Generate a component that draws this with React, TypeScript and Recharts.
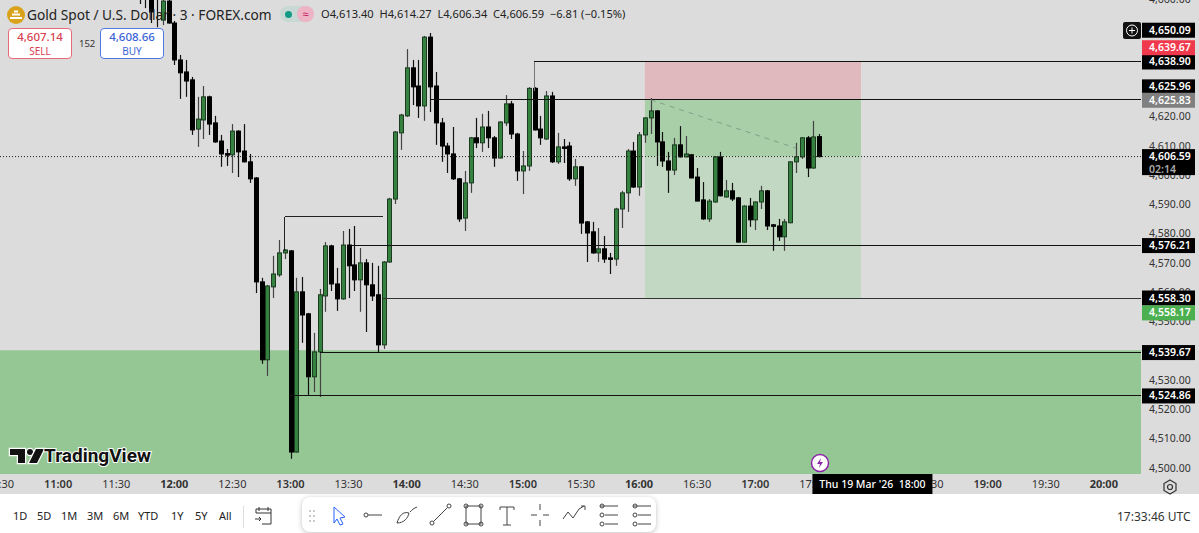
import { Bar, ComposedChart, ReferenceArea, ReferenceLine, XAxis, YAxis } from "recharts";

// candle open times in minutes since midnight (3 minute bars)
const times = [
  702, 705, 708, 711, 714, 717, 720, 723, 726, 729,
  732, 735, 738, 741, 744, 747, 750, 753, 756, 759,
  762, 765, 768, 771, 774, 777, 780, 783, 786, 789,
  792, 795, 798, 801, 804, 807, 810, 813, 816, 819,
  822, 825, 828, 831, 834, 837, 840, 843, 846, 849,
  852, 855, 858, 861, 864, 867, 870, 873, 876, 879,
  882, 885, 888, 891, 894, 897, 900, 903, 906, 909,
  912, 915, 918, 921, 924, 927, 930, 933, 936, 939,
  942, 945, 948, 951, 954, 957, 960, 963, 966, 969,
  972, 975, 978, 981, 984, 987, 990, 993, 996, 999,
  1002, 1005, 1008, 1011, 1014, 1017, 1020, 1023, 1026, 1029,
  1032, 1035, 1038, 1041, 1044, 1047, 1050, 1053,
];
const opens = [
  4664, 4663, 4661, 4661.5, 4653.2, 4659.7, 4652.2, 4639.6, 4635.5, 4632.8,
  4616.0, 4619.1, 4627.0, 4618.1, 4611.9, 4607.6, 4607.2, 4615.3, 4608.5, 4604.8,
  4599.3, 4563.8, 4537.2, 4562.1, 4566.2, 4573.7, 4574.4, 4505.7, 4560.4, 4552.9,
  4531.4, 4539.9, 4559.0, 4576.1, 4563.1, 4558.0, 4576.4, 4569.6, 4564.5, 4570.3,
  4562.8, 4559.4, 4542.3, 4570.6, 4592.1, 4614.7, 4620.5, 4636.9, 4630.7, 4623.9,
  4647.4, 4630.7, 4618.1, 4610.2, 4607.5, 4599.0, 4585.6, 4597.6, 4613.0, 4611.3,
  4616.7, 4613.0, 4606.1, 4618.1, 4624.6, 4614.3, 4601.7, 4603.4, 4629.9, 4616.0,
  4612.6, 4627.3, 4604.8, 4609.9, 4610.2, 4599.0, 4603.1, 4584.3, 4580.9, 4573.7,
  4575.1, 4572.0, 4571.6, 4588.7, 4594.2, 4608.5, 4596.2, 4614.0, 4619.8, 4622.2,
  4611.6, 4605.1, 4602.0, 4610.6, 4606.5, 4607.2, 4599.6, 4591.8, 4585.3, 4591.1,
  4606.5, 4592.8, 4594.9, 4592.5, 4577.4, 4589.7, 4585.0, 4591.1, 4594.9, 4583.3,
  4582.9, 4579.2, 4584.0, 4604.8, 4606.5, 4613.0, 4602.7, 4613.4,
];
const highs = [
  4666, 4666, 4663, 4663, 4661, 4660.5, 4652.9, 4641.3, 4639.6, 4633.8,
  4627.0, 4630.7, 4627.4, 4620.5, 4614.0, 4609.2, 4617.7, 4615.6, 4617.7, 4607.5,
  4599.6, 4565.2, 4562.8, 4572.7, 4578.1, 4575.0, 4574.7, 4565.2, 4565.5, 4553.2,
  4546.4, 4561.4, 4577.4, 4576.5, 4568.6, 4581.2, 4581.9, 4582.9, 4575.4, 4571.6,
  4570.3, 4569.3, 4570.9, 4592.5, 4615.3, 4621.2, 4643.3, 4639.6, 4639.6, 4647.8,
  4648.8, 4635.5, 4619.8, 4611.3, 4616.7, 4599.3, 4601.7, 4613.3, 4619.8, 4621.2,
  4622.2, 4613.6, 4618.7, 4627.6, 4625.6, 4614.7, 4608.5, 4630.3, 4630.3, 4620.5,
  4629.0, 4628.7, 4614.7, 4612.6, 4611.6, 4605.8, 4603.4, 4584.6, 4584.3, 4582.2,
  4579.5, 4573.7, 4589.1, 4594.9, 4609.2, 4611.6, 4615.0, 4620.0, 4626.6, 4622.5,
  4615.0, 4608.2, 4613.0, 4617.0, 4613.6, 4607.5, 4602.7, 4597.9, 4592.1, 4606.8,
  4608.2, 4598.6, 4597.6, 4592.8, 4590.0, 4592.5, 4591.3, 4596.6, 4595.2, 4583.6,
  4585.3, 4585.3, 4605.0, 4611.3, 4613.3, 4613.6, 4618.8, 4614.3,
];
const lows = [
  4658.7, 4657.3, 4652.2, 4650.8, 4651.5, 4652.0, 4637.9, 4626.3, 4627.0, 4614.0,
  4609.9, 4612.6, 4614.0, 4611.3, 4603.1, 4603.4, 4601.0, 4599.6, 4604.6, 4597.6,
  4560.0, 4535.8, 4531.7, 4558.3, 4565.5, 4571.6, 4503.4, 4505.5, 4543.0, 4525.2,
  4526.2, 4524.5, 4553.6, 4560.7, 4553.9, 4557.7, 4558.3, 4560.7, 4553.6, 4546.7,
  4557.3, 4539.6, 4540.9, 4570.3, 4590.4, 4608.9, 4620.1, 4624.2, 4619.8, 4618.8,
  4621.8, 4610.6, 4604.8, 4601.0, 4598.6, 4584.3, 4581.2, 4594.2, 4609.5, 4608.2,
  4609.5, 4603.1, 4606.0, 4617.0, 4612.6, 4598.3, 4593.8, 4601.7, 4615.5, 4610.6,
  4612.3, 4604.4, 4604.1, 4604.4, 4598.3, 4596.6, 4580.2, 4570.6, 4573.4, 4570.6,
  4570.3, 4566.5, 4569.3, 4582.2, 4587.7, 4595.9, 4593.2, 4611.3, 4614.3, 4603.4,
  4603.1, 4594.2, 4600.3, 4606.3, 4606.3, 4599.2, 4591.4, 4585.0, 4584.3, 4590.8,
  4593.0, 4592.6, 4591.4, 4577.2, 4577.2, 4582.6, 4581.5, 4588.7, 4581.5, 4574.4,
  4577.8, 4574.4, 4583.8, 4601.0, 4605.8, 4599.6, 4602.4, 4606.3,
];
const closes = [
  4662, 4661, 4656, 4660.9, 4659.7, 4652.2, 4639.6, 4635.2, 4632.4, 4615.7,
  4619.4, 4627.0, 4617.7, 4611.6, 4607.5, 4607.4, 4615.3, 4608.2, 4604.8, 4599.0,
  4563.8, 4537.2, 4562.4, 4566.5, 4573.7, 4574.7, 4505.7, 4560.4, 4552.5, 4531.4,
  4539.9, 4559.4, 4576.1, 4563.1, 4558.0, 4576.4, 4569.3, 4564.5, 4570.3, 4562.8,
  4559.0, 4542.3, 4570.6, 4592.1, 4615.0, 4620.8, 4636.9, 4630.4, 4623.9, 4647.4,
  4630.4, 4618.1, 4610.2, 4607.5, 4599.0, 4585.3, 4597.6, 4613.0, 4611.3, 4616.7,
  4613.0, 4606.1, 4618.4, 4624.6, 4614.3, 4601.7, 4603.4, 4629.9, 4615.7, 4613.0,
  4627.3, 4604.8, 4609.9, 4609.7, 4599.0, 4603.1, 4583.9, 4580.5, 4573.7, 4575.1,
  4571.6, 4571.8, 4588.7, 4594.2, 4608.5, 4596.2, 4614.0, 4619.8, 4622.2, 4611.6,
  4605.1, 4602.0, 4610.6, 4606.5, 4607.5, 4599.3, 4591.4, 4585.3, 4591.4, 4606.5,
  4593.2, 4594.9, 4592.1, 4577.4, 4589.7, 4585.0, 4591.1, 4594.9, 4582.9, 4583.1,
  4579.2, 4584.3, 4604.8, 4606.5, 4613.0, 4602.7, 4613.3, 4606.59,
];

// 4540, 4630, 4640, 4650 and 18:00 sit fully behind tags in the original
const priceTicks = [
  4500, 4510, 4520, 4530, 4550, 4560, 4570, 4580,
  4590, 4600, 4610, 4620, 4660,
];
const timeTicks = [
  630, 660, 690, 720, 750, 780, 810, 840, 870, 900, 930, 960, 990,
  1020, 1050, 1110, 1140, 1170, 1200,
];
const rangeButtons = ["1D", "5D", "1M", "3M", "6M", "YTD", "1Y", "5Y", "All"];
const rangeButtonX = [13, 37, 61, 87, 113, 138, 171, 195, 219];

const candles = times.map((time, i) => ({
  time,
  open: opens[i],
  high: highs[i],
  low: lows[i],
  close: closes[i],
  range: [lows[i], highs[i]],
}));

const X_MIN = 630;
const X_MAX = 1219.2;
const Y_MIN = 4498.2;
const Y_MAX = 4660.07;
const PLOT_H = 474;
const FONT = '"Noto Sans", sans-serif';
const TEXT = "#333";

const Candle = (props: any) => {
  const { x, y, width, height, payload } = props;
  const cx = Math.round(x + width / 2);
  const perUnit = height / (payload.high - payload.low);
  const up = payload.close >= payload.open;
  const top = y + (payload.high - Math.max(payload.open, payload.close)) * perUnit;
  const bot = y + (payload.high - Math.min(payload.open, payload.close)) * perUnit;
  return (
    <g>
      <line x1={cx + 0.5} x2={cx + 0.5} y1={y} y2={y + height} stroke={up ? "#444" : "#111"} strokeWidth={1.2} />
      <rect
        x={cx - 1.5}
        y={top}
        width={4}
        height={Math.max(bot - top, 1.5)}
        fill={up ? "#35813f" : "#000"}
        stroke={up ? "#1b3a20" : "#000"}
        strokeWidth={1}
      />
    </g>
  );
};

const TimeTick = (props: any) => {
  const { x, y, payload } = props;
  const v = payload.value as number;
  const h = Math.floor(v / 60);
  const m = v % 60;
  const bold = m === 0 && h % 2 === 0;
  const semi = m === 0;
  return (
    <text
      x={x}
      y={y + 6}
      textAnchor="middle"
      fontFamily={FONT}
      fontSize={11}
      fontWeight={bold ? 700 : semi ? 600 : 400}
      fill={TEXT}
    >
      {`${h}:${m === 0 ? "00" : m}`}
    </text>
  );
};

const PriceTick = (props: any) => {
  const { y, payload } = props;
  return (
    <text x={1149} y={y + 3} fontFamily={FONT} fontSize={10.5} fill={TEXT}>
      {payload.value.toLocaleString("en-US", { minimumFractionDigits: 2 })}
    </text>
  );
};

const priceTag = (text: string, bg: string, dy = 0, sub?: string) => (p: any) => {
  const cy = p.viewBox.y + dy;
  return (
    <g fontFamily={FONT} fontSize={10.5} fontWeight={600}>
      <rect x={1142} y={cy - 7.5} width={53} height={sub ? 26 : 15} fill={bg} />
      <text x={1149} y={cy + 3.5} fill="#fff">{text}</text>
      {sub && <text x={1149} y={cy + 16} fill="#aaa">{sub}</text>}
    </g>
  );
};

const dateTag = (p: any) => (
  <g fontFamily={FONT} fontSize={10.5} fontWeight={500}>
    <rect x={p.viewBox.x - 59} y={PLOT_H} width={120} height={20} fill="#000" />
    <text x={p.viewBox.x + 1} y={PLOT_H + 14} fill="#fff" textAnchor="middle">
      Thu 19 Mar '26&#160;&#160;18:00
    </text>
  </g>
);

// second transparent chart on top, tags have to cover the axis labels
const TagLayer = () => (
  <div style={{ position: "absolute", left: 0, top: 0 }}>
    <ComposedChart width={1199} height={533} data={candles} margin={{ top: 0, right: 58, bottom: 59, left: 0 }}>
      <XAxis xAxisId="t" dataKey="time" type="number" domain={[X_MIN, X_MAX]} allowDataOverflow hide />
      <YAxis yAxisId="p" type="number" domain={[Y_MIN, Y_MAX]} allowDataOverflow hide />
      <ReferenceLine xAxisId="t" yAxisId="p" y={4650.09} stroke="none" label={priceTag("4,650.09", "#000", 1)} />
      <ReferenceLine xAxisId="t" yAxisId="p" y={4625.96} stroke="none" label={priceTag("4,625.96", "#000", -13)} />
      <ReferenceLine xAxisId="t" yAxisId="p" y={4625.83} stroke="none" label={priceTag("4,625.83", "#808080")} />
      <ReferenceLine xAxisId="t" yAxisId="p" y={4638.9} stroke="none" label={priceTag("4,638.90", "#000")} />
      <ReferenceLine xAxisId="t" yAxisId="p" y={4639.67} stroke="none" label={priceTag("4,639.67", "#f0394d", -12)} />
      <ReferenceLine xAxisId="t" yAxisId="p" y={4606.59} stroke="none" label={priceTag("4,606.59", "#000", 0, "02:14")} />
      <ReferenceLine xAxisId="t" yAxisId="p" y={4576.21} stroke="none" label={priceTag("4,576.21", "#000")} />
      <ReferenceLine xAxisId="t" yAxisId="p" y={4558.3} stroke="none" label={priceTag("4,558.30", "#000")} />
      <ReferenceLine xAxisId="t" yAxisId="p" y={4558.17} stroke="none" label={priceTag("4,558.17", "#4caf50", 14.5)} />
      <ReferenceLine xAxisId="t" yAxisId="p" y={4539.67} stroke="none" label={priceTag("4,539.67", "#000")} />
      <ReferenceLine xAxisId="t" yAxisId="p" y={4524.86} stroke="none" label={priceTag("4,524.86", "#000")} />
      <ReferenceLine xAxisId="t" yAxisId="p" x={1080} stroke="none" label={dateTag} />
    </ComposedChart>
  </div>
);

const icon = { fill: "none", stroke: "#444", strokeWidth: 1 };

const Toolbar = () => (
  <div
    style={{
      position: "absolute",
      left: 302,
      top: 497,
      width: 354,
      height: 35,
      background: "#fff",
      borderRadius: 8,
      boxShadow: "0 1px 5px rgba(0,0,0,0.25)",
    }}
  >
    <svg width={354} height={35} style={{ display: "block" }}>
      <g fill="#bbb">
        <circle cx={8} cy={14} r={1} /><circle cx={12} cy={14} r={1} />
        <circle cx={8} cy={19} r={1} /><circle cx={12} cy={19} r={1} />
        <circle cx={8} cy={24} r={1} /><circle cx={12} cy={24} r={1} />
      </g>
      <path d="M32 10 L43 20 L38 21 L41 27 L38 28 L35 22 L32 26 Z" fill="none" stroke="#2962ff" strokeWidth={1} />
      <g {...icon}>
        <circle cx={64} cy={18} r={2} /><path d="M66 18 H80" />
        <path d="M95 26 C97 19 101 14 107 16 C106 21 102 26 95 26 Z M108 15 C110 13 112 11 115 10" />
        <circle cx={130} cy={26} r={2} /><circle cx={147} cy={9} r={2} /><path d="M131.5 24.5 L145.5 10.5" />
        <rect x={164} y={9} width={15} height={18} />
        <circle cx={164} cy={9} r={2} /><circle cx={179} cy={9} r={2} /><circle cx={164} cy={27} r={2} /><circle cx={179} cy={27} r={2} />
        <path d="M198 10 H212 M205 10 V28 M201 28 H209 M198 10 V13 M212 10 V13" />
        <path d="M238 7 V13 M238 23 V29 M229 18 H235 M241 18 H247" />
        <path d="M261 22 L266 15 L271 21 L277 12 L282 9 M279 9 H283 V13" />
        <path d="M298 9 H316 M303 18 H316 M303 27 H316" /><circle cx={300} cy={18} r={2} /><circle cx={300} cy={27} r={2} /><circle cx={300} cy={9} r={2} />
        <path d="M331 9 H349 M336 18 H349 M336 27 H349" /><circle cx={333} cy={9} r={2} /><circle cx={333} cy={18} r={2} /><circle cx={333} cy={27} r={2} />
      </g>
    </svg>
  </div>
);

const Header = () => (
  <>
    <svg width={20} height={20} style={{ position: "absolute", left: 6, top: 5 }}>
      <circle cx={10} cy={10} r={9} fill="#d9a21b" />
      <path d="M4 13 H16 M6 9.5 H14 M8 6.5 H12" stroke="#fff" strokeWidth={2} />
    </svg>
    <div style={{ position: "absolute", left: 27, top: 5, font: `13.7px ${FONT}`, color: "#222", whiteSpace: "nowrap" }}>
      Gold Spot / U.S. Dollar · 3 · FOREX.com
    </div>
    <div style={{ position: "absolute", left: 280, top: 6, width: 34, height: 16, borderRadius: 8, background: "#c8d8d4" }} />
    <div style={{ position: "absolute", left: 297, top: 6, width: 17, height: 16, borderRadius: 8, background: "#eeb4c6", color: "#c2185b", font: `11px ${FONT}`, textAlign: "center" }}>≈</div>
    <div style={{ position: "absolute", left: 285, top: 11, width: 7, height: 7, borderRadius: 4, background: "#139a85" }} />
    <div style={{ position: "absolute", left: 321, top: 6, font: `11.1px ${FONT}`, color: "#222", whiteSpace: "nowrap" }}>
      O4,613.40&#160;&#160;H4,614.27&#160;&#160;L4,606.34&#160;&#160;C4,606.59&#160;&#160;−6.81 (−0.15%)
    </div>
    <div style={{ position: "absolute", left: 8, top: 28, width: 62, height: 29, border: "1px solid #e8697a", borderRadius: 4, background: "#fff", textAlign: "center", color: "#d9404f", fontFamily: FONT, lineHeight: "14px" }}>
      <div style={{ fontSize: 11.5, fontWeight: 500, paddingTop: 1 }}>4,607.14</div>
      <div style={{ fontSize: 10 }}>SELL</div>
    </div>
    <div style={{ position: "absolute", left: 79, top: 37, font: `9.5px ${FONT}`, color: "#333" }}>152</div>
    <div style={{ position: "absolute", left: 100, top: 28, width: 62, height: 29, border: "1px solid #4f78e0", borderRadius: 4, background: "#fff", textAlign: "center", color: "#3b63d8", fontFamily: FONT, lineHeight: "14px" }}>
      <div style={{ fontSize: 11.5, fontWeight: 500, paddingTop: 1 }}>4,608.66</div>
      <div style={{ fontSize: 10 }}>BUY</div>
    </div>
  </>
);

const Watermark = () => (
  <svg width={150} height={30} style={{ position: "absolute", left: 6, top: 441 }}>
    <g stroke="#fff" strokeWidth={2.5} style={{ paintOrder: "stroke" }}>
      <path d="M4 8 H19 V22 H12 V14 H4 Z" fill="#111" />
      <circle cx={24} cy={11} r={3} fill="#111" />
      <path d="M30 8 H38 L31 22 H23 Z" fill="#111" />
      <text x={38} y={21} fontFamily='"Roboto", sans-serif' fontSize={19} fontWeight={700} fill="#111" strokeWidth={2}>
        TradingView
      </text>
    </g>
  </svg>
);

const Footer = () => (
  <>
    <div style={{ position: "absolute", left: 0, top: 494, width: 1199, height: 39, background: "#fff" }} />
    {rangeButtons.map((b, i) => (
      <div key={b} style={{ position: "absolute", left: rangeButtonX[i], top: 508, font: `11px ${FONT}`, color: "#222" }}>
        {b}
      </div>
    ))}
    <div style={{ position: "absolute", left: 243, top: 506, width: 1, height: 22, background: "#ddd" }} />
    <svg width={20} height={20} style={{ position: "absolute", left: 254, top: 506 }}>
      <path d="M2 7 H17 V18 H8 M2 7 V3 H17 V7 M5 1 V5 M14 1 V5 M1 13 H7 M5 11 L7 13 L5 15" fill="none" stroke="#333" strokeWidth={1} />
    </svg>
    <Toolbar />
    <div style={{ position: "absolute", left: 1117, top: 508, font: `12px ${FONT}`, color: "#333", whiteSpace: "nowrap" }}>
      17:33:46 UTC
    </div>
  </>
);

const Marks = () => (
  <>
    <svg width={18} height={17} style={{ position: "absolute", left: 1123, top: 22 }}>
      <rect width={18} height={17} rx={2} fill="#111" />
      <circle cx={9} cy={8.5} r={5.5} fill="none" stroke="#fff" />
      <path d="M9 5.5 V11.5 M6 8.5 H12" stroke="#fff" />
    </svg>
    <svg width={20} height={20} style={{ position: "absolute", left: 810, top: 453 }}>
      <circle cx={10} cy={10} r={8.5} fill="#fff" stroke="#8e24aa" strokeWidth={1.5} />
      <path d="M11 5 L7 11 H10 L9 15 L13 9 H10 Z" fill="#8e24aa" />
    </svg>
    <svg width={18} height={18} style={{ position: "absolute", left: 1161, top: 478 }}>
      <path d="M9 2 L15 5.5 V12.5 L9 16 L3 12.5 V5.5 Z" fill="none" stroke="#333" strokeWidth={1.2} />
      <circle cx={9} cy={9} r={2.5} fill="none" stroke="#333" strokeWidth={1.2} />
    </svg>
  </>
);

const App = () => {
  return (
    <div style={{ position: "absolute", left: 0, top: 0, width: 1199, height: 533, background: "#dcdcdc", overflow: "hidden" }}>
      <Footer />
      <div style={{ position: "absolute", left: 0, top: 0 }}>
        <ComposedChart width={1199} height={533} data={candles} margin={{ top: 0, right: 0, bottom: 39, left: 0 }}>
          <XAxis
            xAxisId="t"
            dataKey="time"
            type="number"
            domain={[X_MIN, X_MAX]}
            allowDataOverflow
            ticks={timeTicks}
            interval={0}
            height={20}
            axisLine={false}
            tickLine={false}
            tick={TimeTick}
          />
          <YAxis
            yAxisId="p"
            orientation="right"
            type="number"
            width={58}
            domain={[Y_MIN, Y_MAX]}
            allowDataOverflow
            ticks={priceTicks}
            interval={0}
            axisLine={false}
            tickLine={false}
            tick={PriceTick}
          />
          <ReferenceArea xAxisId="t" yAxisId="p" x1={X_MIN} x2={X_MAX} y1={Y_MIN} y2={4540.5} fill="#95c795" fillOpacity={1} stroke="none" />
          <ReferenceArea xAxisId="t" yAxisId="p" x1={963} x2={1074.6} y1={4625.96} y2={4639.2} fill="#e0b9be" fillOpacity={1} stroke="none" />
          <ReferenceArea xAxisId="t" yAxisId="p" x1={963} x2={1074.6} y1={4606.59} y2={4625.96} fill="#a9cfa9" fillOpacity={1} stroke="none" />
          <ReferenceArea xAxisId="t" yAxisId="p" x1={963} x2={1074.6} y1={4558.3} y2={4606.59} fill="#c2d8c2" fillOpacity={1} stroke="none" />

          <ReferenceLine xAxisId="t" yAxisId="p" y={4606.59} stroke="#222" strokeDasharray="1 2" />
          <ReferenceLine xAxisId="t" yAxisId="p" segment={[{ x: 906, y: 4638.9 }, { x: X_MAX, y: 4638.9 }]} stroke="#111" shapeRendering="crispEdges" />
          <ReferenceLine xAxisId="t" yAxisId="p" segment={[{ x: 906, y: 4638.9 }, { x: 906, y: 4629 }]} stroke="#777" shapeRendering="crispEdges" />
          <ReferenceLine xAxisId="t" yAxisId="p" segment={[{ x: 852, y: 4625.96 }, { x: X_MAX, y: 4625.96 }]} stroke="#111" shapeRendering="crispEdges" />
          <ReferenceLine xAxisId="t" yAxisId="p" segment={[{ x: 812, y: 4576.21 }, { x: X_MAX, y: 4576.21 }]} stroke="#111" shapeRendering="crispEdges" />
          <ReferenceLine xAxisId="t" yAxisId="p" segment={[{ x: 828, y: 4558.3 }, { x: X_MAX, y: 4558.3 }]} stroke="#333" shapeRendering="crispEdges" />
          <ReferenceLine xAxisId="t" yAxisId="p" segment={[{ x: 795, y: 4539.67 }, { x: X_MAX, y: 4539.67 }]} stroke="#111" shapeRendering="crispEdges" />
          <ReferenceLine xAxisId="t" yAxisId="p" segment={[{ x: 780, y: 4524.86 }, { x: X_MAX, y: 4524.86 }]} stroke="#111" shapeRendering="crispEdges" />
          <ReferenceLine xAxisId="t" yAxisId="p" segment={[{ x: 777, y: 4586 }, { x: 828, y: 4586 }]} stroke="#222" shapeRendering="crispEdges" />
          <ReferenceLine xAxisId="t" yAxisId="p" segment={[{ x: 777, y: 4586 }, { x: 777, y: 4574.5 }]} stroke="#222" shapeRendering="crispEdges" />
          <ReferenceLine xAxisId="t" yAxisId="p" segment={[{ x: 966, y: 4626 }, { x: 1041, y: 4609.5 }]} stroke="#7f9f86" strokeDasharray="5 5" />

          <Bar xAxisId="t" yAxisId="p" dataKey="range" barSize={4} shape={Candle} isAnimationActive={false} />
        </ComposedChart>
      </div>
      <TagLayer />
      <Header />
      <Watermark />
      <Marks />
    </div>
  );
};

export default App;
